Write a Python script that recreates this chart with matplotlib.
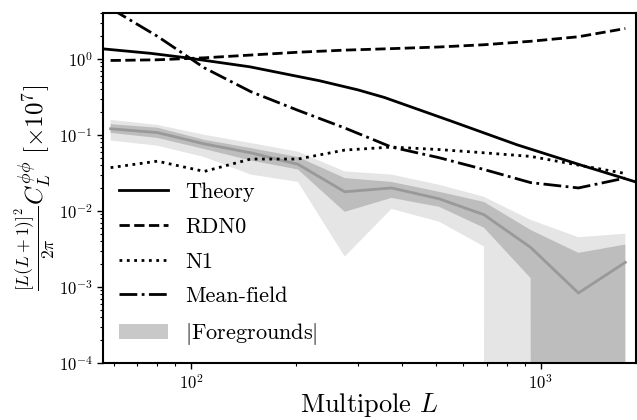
import numpy as np
import matplotlib
matplotlib.use("Agg")
import matplotlib.pyplot as plt
from matplotlib.patches import Patch

plt.rcParams['font.family'] = 'serif'
plt.rcParams['font.serif'] = ['cmr10']
plt.rcParams['mathtext.fontset'] = 'cm'
plt.rcParams['axes.formatter.use_mathtext'] = True

# Theory curve
L_theory = [56, 76.5, 97, 147, 233, 300, 357, 551, 855, 1326, 1870]
theory = [1.35, 1.18, 1.03, 0.785, 0.514, 0.39, 0.31, 0.153, 0.074, 0.039, 0.024]

# binned multipoles
L_bins = [58.8, 80, 109, 148, 202, 275, 374, 512, 688, 936, 1282, 1746]

rdn0 = [0.95, 0.97, 1.03, 1.12, 1.22, 1.30, 1.36, 1.43, 1.53, 1.70, 1.95, 2.5]
n1 = [0.037, 0.045, 0.033, 0.048, 0.048, 0.063, 0.069, 0.064, 0.058, 0.052, 0.040, 0.031]
meanfield = [4.6, 1.98, 0.76, 0.37, 0.21, 0.123, 0.069, 0.050, 0.035, 0.0235, 0.020, 0.027]

# foregrounds: mean, 1 sigma band, 2 sigma band (0 = below zero)
fg_mean = [0.120, 0.107, 0.076, 0.058, 0.041, 0.0178, 0.020, 0.0144, 0.0089, 0.0033, 0.00083, 0.0021]
fg_lo1 = [0.106, 0.091, 0.065, 0.046, 0.035, 0.0097, 0.0148, 0.0113, 0.0060, 0.0013, 0, 0]
fg_hi1 = [0.138, 0.124, 0.086, 0.067, 0.051, 0.027, 0.024, 0.0178, 0.0131, 0.0056, 0.0028, 0.0036]
fg_lo2 = [0.084, 0.072, 0.051, 0.030, 0.024, 0.0025, 0.0106, 0.0072, 0.0034, 0, 0, 0]
fg_hi2 = [0.157, 0.135, 0.100, 0.078, 0.060, 0.033, 0.030, 0.022, 0.0153, 0.0076, 0.0045, 0.0050]

fig = plt.figure(figsize=(6.37, 4.2), dpi=100)
ax = fig.add_axes([0.162, 0.136, 0.836, 0.833])

ax.fill_between(L_bins, fg_lo2, fg_hi2, color='#e5e5e5', lw=0)
ax.fill_between(L_bins, fg_lo1, fg_hi1, color='#bdbdbd', lw=0)
ax.plot(L_bins, fg_mean, color='#999999', lw=2)

ax.plot(L_theory, theory, color='k', lw=2, label='Theory')
ax.plot(L_bins, rdn0, color='k', lw=2, ls='--', label='RDN0')
ax.plot(L_bins, n1, color='k', lw=2, ls=':', label='N1')
ax.plot(L_bins, meanfield, color='k', lw=2, ls='-.', label='Mean-field')

ax.set_xscale('log')
ax.set_yscale('log')
ax.set_xlim(56, 1870)
ax.set_ylim(1e-4, 4)

for s in ax.spines.values():
    s.set_linewidth(1.5)
ax.tick_params(which='major', labelsize=12, width=1, length=4)
ax.tick_params(which='minor', width=0.8, length=2.5)

ax.set_xlabel('Multipole $L$', fontsize=19, labelpad=-1)
ax.set_ylabel(r'$\frac{[L(L+1)]^2}{2\pi}C_L^{\phi\phi}\ [\times 10^7]$', fontsize=18, labelpad=1)

handles, labels = ax.get_legend_handles_labels()
handles.append(Patch(color='#c8c8c8', lw=0))
labels.append(r'$|$Foregrounds$|$')
ax.legend(handles, labels, loc='lower left', frameon=False, fontsize=16,
          handlelength=2.2, labelspacing=0.68, borderaxespad=0.3)

fig.savefig('out.png', dpi=100)
